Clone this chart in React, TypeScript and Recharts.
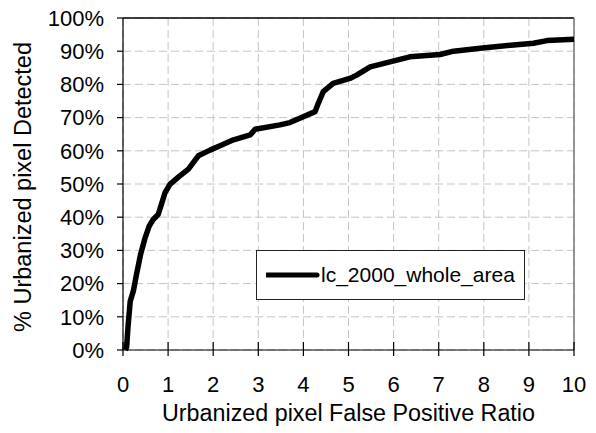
import React from "react";
import {
  LineChart,
  Line,
  XAxis,
  YAxis,
  CartesianGrid,
  ReferenceLine,
  Legend,
} from "recharts";

// false positive ratio (x) and % detected (y)
const fpr = [
  0.05, 0.08, 0.11, 0.16, 0.23, 0.3, 0.39, 0.49, 0.58, 0.67, 0.78, 0.85, 0.93,
  1.04, 1.22, 1.45, 1.67, 1.93, 2.15, 2.45, 2.82, 2.93, 3.48, 3.7, 3.92, 4.26,
  4.33, 4.44, 4.66, 5.03, 5.18, 5.48, 5.92, 6.36, 7.03, 7.33, 7.92, 8.66, 9.1,
  9.4, 10,
];
const detected = [
  0, 0.8, 6.8, 14.7, 17.8, 22.8, 28.8, 33.8, 37.3, 39.3, 40.8, 43.8, 47.3, 49.9,
  52, 54.5, 58.5, 60.2, 61.5, 63.3, 64.8, 66.5, 67.8, 68.5, 69.8, 71.8, 74.3,
  77.8, 80.3, 81.8, 82.8, 85.3, 86.8, 88.3, 89, 90, 90.9, 91.9, 92.4, 93.2,
  93.6,
];
const xTicks = [0, 1, 2, 3, 4, 5, 6, 7, 8, 9, 10];
const yTicks = [0, 10, 20, 30, 40, 50, 60, 70, 80, 90, 100];
const seriesName = "lc_2000_whole_area";
const xTitle = "Urbanized pixel False Positive Ratio";
const yTitle = "% Urbanized pixel Detected";

const data = fpr.map((x, i) => ({ x, y: detected[i] }));

const FONT = '"Liberation Sans", Arial, Helvetica, sans-serif';

const XTick = (props: any) => {
  const { x, y, payload } = props;
  return (
    <g>
      <line x1={x} x2={x} y1={y - 8} y2={y + 6} stroke="#000" strokeWidth={1.2} />
      <text x={x} y={y + 42} textAnchor="middle" fill="#000" fontSize={22} fontFamily={FONT}>
        {payload.value}
      </text>
    </g>
  );
};

const LegendBox = () => (
  <div
    style={{
      width: 267,
      height: 48,
      border: "1px solid #222",
      background: "#fff",
      display: "flex",
      alignItems: "center",
      fontFamily: FONT,
      fontSize: 21,
      color: "#000",
    }}
  >
    <svg width={65} height={10} style={{ marginLeft: 9 }}>
      <line x1={1} x2={51} y1={5} y2={5} stroke="#000" strokeWidth={5} strokeLinecap="round" />
    </svg>
    <span style={{ marginLeft: -10 }}>{seriesName}</span>
  </div>
);

export default function App() {
  return (
    <div style={{ position: "absolute", left: 0, top: 0, background: "#fff" }}>
      <LineChart
        width={596}
        height={433}
        data={data}
        margin={{ top: 18, right: 22, left: 0, bottom: 0 }}
      >
        <CartesianGrid stroke="#c4c4c4" strokeDasharray="8 4" />
        <XAxis
          dataKey="x"
          type="number"
          domain={[0, 10]}
          ticks={xTicks}
          height={83}
          axisLine={{ stroke: "#000", strokeWidth: 1.2 }}
          tickLine={false}
          tickSize={0}
          tickMargin={0}
          tick={<XTick />}
          interval={0}
          label={{
            content: (p: any) => {
              const vb = p.viewBox;
              return (
                <text
                  x={vb.x + vb.width / 2}
                  y={vb.y + 71}
                  textAnchor="middle"
                  fill="#000"
                  fontSize={23.3}
                  fontFamily={FONT}
                >
                  {xTitle}
                </text>
              );
            },
          }}
        />
        <YAxis
          type="number"
          domain={[0, 100]}
          ticks={yTicks}
          width={123}
          interval={0}
          tickFormatter={(v: number) => `${v}%`}
          axisLine={{ stroke: "#000", strokeWidth: 1.2 }}
          tickLine={{ stroke: "#000", strokeWidth: 1.2 }}
          tickSize={6}
          tickMargin={13}
          tick={{ fill: "#000", fontSize: 22, fontFamily: FONT }}
          label={{
            content: (p: any) => {
              const vb = p.viewBox;
              const cx = vb.x + 23;
              const cy = vb.y + vb.height / 2 + 3;
              return (
                <text
                  x={cx}
                  y={cy}
                  textAnchor="middle"
                  dominantBaseline="central"
                  transform={`rotate(-90 ${cx} ${cy})`}
                  fill="#000"
                  fontSize={23.5}
                  fontFamily={FONT}
                >
                  {yTitle}
                </text>
              );
            },
          }}
        />
        <ReferenceLine y={100} stroke="#000" strokeWidth={1.5} />
        <ReferenceLine x={10} stroke="#777" strokeWidth={1.5} />
        <Legend
          layout="horizontal"
          verticalAlign="middle"
          align="center"
          content={<LegendBox />}
          wrapperStyle={{ left: 256, top: 250, width: 269, height: 50 }}
        />
        <Line
          type="linear"
          dataKey="y"
          name={seriesName}
          stroke="#000"
          strokeWidth={5.5}
          strokeLinejoin="round"
          dot={false}
          activeDot={false}
          isAnimationActive={false}
        />
      </LineChart>
    </div>
  );
}
